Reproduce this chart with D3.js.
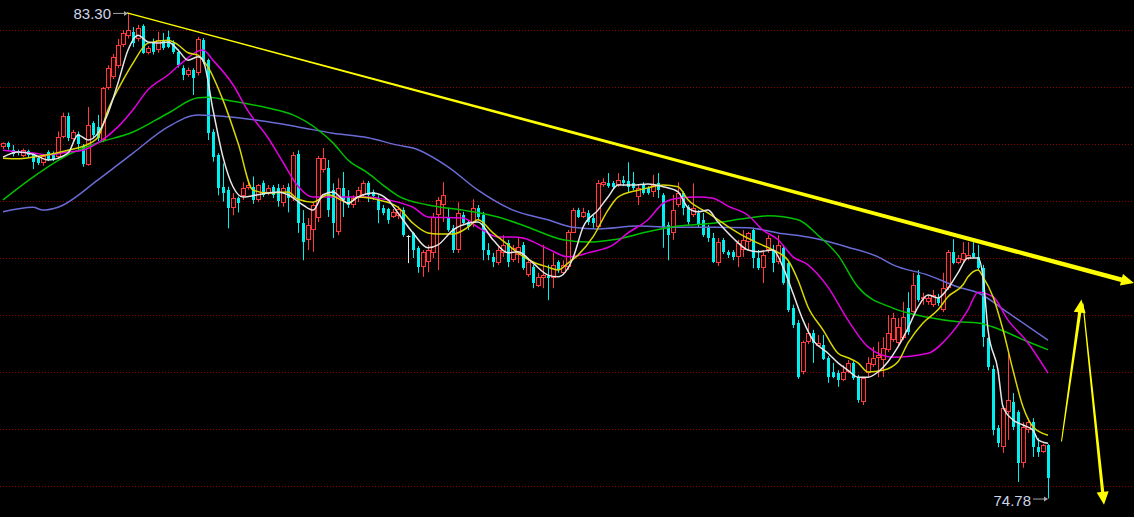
<!DOCTYPE html>
<html><head><meta charset="utf-8">
<script src="https://cdn.jsdelivr.net/npm/d3@7"></script>
<style>html,body{margin:0;padding:0;background:#000;overflow:hidden}svg{display:block}</style>
</head><body><svg id="c" width="1134" height="517"></svg>
<script>
// ---- data (prices) ----
const open = [
80.95,81.01,80.90,80.87,80.79,80.88,80.82,80.75,80.67,80.86,
80.84,80.78,81.13,81.50,81.08,81.18,80.96,80.64,81.36,81.30,
81.07,81.98,82.18,82.36,82.74,82.90,82.97,82.84,83.07,82.60,
82.77,82.65,82.80,82.88,82.77,82.62,82.33,82.21,82.30,82.24,
82.82,82.47,81.21,80.81,80.25,80.19,79.87,80.05,80.08,80.23,
80.25,80.02,80.32,80.14,80.25,80.23,79.97,80.25,80.05,80.83,
79.61,79.32,79.49,79.70,80.54,80.58,80.19,79.45,80.23,80.07,
79.93,80.05,80.11,80.32,80.15,80.06,79.88,79.86,79.72,79.74,
79.84,79.39,79.44,79.18,78.84,78.93,79.09,79.75,79.93,79.72,
79.53,79.14,79.75,79.63,79.61,79.88,79.75,79.14,79.02,78.91,
79.09,79.26,78.96,79.05,79.23,78.70,78.84,78.51,78.65,78.68,
78.65,78.93,78.74,78.84,79.44,79.84,79.72,79.79,79.70,79.54,
80.28,80.31,80.31,80.28,80.37,80.35,80.31,80.07,80.28,80.23,
80.16,80.31,80.11,79.58,79.44,79.93,80.14,79.89,79.75,79.79,
79.67,79.53,79.35,78.91,79.32,79.11,79.11,79.02,79.14,79.28,
79.49,79.00,78.82,79.14,79.14,78.93,79.18,78.91,78.12,77.86,
77.00,77.53,77.68,77.46,77.47,77.25,77.00,76.98,76.86,77.00,
77.16,76.91,76.47,76.98,77.12,77.25,77.21,77.38,77.56,77.51,
77.60,78.12,78.05,78.70,78.28,78.23,78.18,78.30,78.09,78.47,
79.11,78.91,78.96,78.98,79.09,79.02,78.82,77.60,77.05,76.02,
75.68,76.30,76.47,76.30,75.40,75.98,76.12,75.68,75.60,75.72];
const high = [
81.03,81.04,80.98,80.90,80.92,80.90,80.84,80.78,80.81,80.89,
80.87,81.22,81.55,81.55,81.25,81.22,81.00,81.65,81.40,81.51,
82.00,82.38,82.58,82.84,83.00,83.30,83.05,83.09,83.10,82.72,
82.85,82.97,82.95,82.99,82.82,82.66,82.38,82.34,82.33,82.88,
82.86,82.50,81.26,80.84,80.66,80.25,80.14,80.08,80.33,80.35,
80.43,80.30,80.36,80.28,80.28,80.30,80.28,80.31,80.86,80.89,
79.84,79.70,79.98,80.79,80.93,80.72,80.31,80.40,80.51,80.19,
80.10,80.25,80.36,80.35,80.20,80.10,79.93,79.88,79.86,79.91,
79.89,79.40,79.46,79.21,79.14,79.23,79.79,80.07,80.33,79.88,
79.58,79.98,79.81,79.67,80.03,79.93,79.81,79.26,79.09,79.19,
79.40,79.32,79.23,79.37,79.28,79.00,78.88,78.74,79.23,78.88,
79.09,78.96,78.96,79.49,79.88,79.88,79.88,79.84,79.75,80.37,
80.40,80.49,80.35,80.49,80.44,80.68,80.51,80.28,80.33,80.26,
80.46,80.49,80.14,79.63,80.11,80.33,80.17,79.93,80.31,79.84,
79.79,79.58,79.44,79.35,79.35,79.14,79.14,79.32,79.49,79.46,
79.53,79.14,79.14,79.40,79.23,79.40,79.23,78.96,78.18,77.91,
77.55,77.86,77.74,77.65,77.65,77.28,77.16,77.03,77.12,77.21,
77.19,76.95,76.91,77.26,77.44,77.53,77.61,78.00,78.04,77.95,
78.23,78.40,78.74,78.79,78.39,78.35,78.44,78.37,78.74,79.14,
79.33,79.05,79.28,79.28,79.28,79.23,78.88,77.61,77.12,76.07,
76.40,77.38,76.63,76.33,76.12,76.19,76.19,75.84,75.74,75.74];
const low = [
80.91,80.90,80.78,80.80,80.77,80.76,80.56,80.63,80.62,80.70,
80.70,80.74,81.10,81.05,81.03,80.90,80.60,80.62,81.10,81.05,
81.03,81.95,82.14,82.33,82.70,82.85,82.70,82.80,82.58,82.57,
82.57,82.60,82.65,82.68,82.58,82.34,82.12,82.18,81.86,82.20,
82.40,81.07,80.69,80.10,79.99,79.52,79.75,79.80,80.02,80.20,
79.95,79.98,80.07,80.10,80.05,79.90,79.90,79.80,80.00,79.44,
78.96,79.14,79.11,79.63,80.50,79.72,79.35,79.40,79.72,79.88,
79.88,79.98,80.07,79.98,80.02,79.61,79.75,79.60,79.70,79.68,
79.37,78.91,79.00,78.74,78.67,78.75,79.00,78.79,79.63,79.46,
79.09,79.09,79.58,79.49,79.54,79.67,78.96,78.96,78.84,78.88,
79.02,78.84,78.93,78.91,78.79,78.67,78.47,78.49,78.47,78.26,
78.47,78.74,78.70,78.79,79.44,79.70,79.70,79.58,79.53,79.53,
80.25,80.23,80.21,80.25,80.26,80.14,80.19,79.93,80.11,80.11,
80.07,80.05,79.18,78.96,79.32,79.89,79.75,79.58,79.72,79.54,
79.37,79.28,78.91,78.86,79.07,79.00,78.96,78.84,79.02,79.14,
78.82,78.79,78.56,79.09,78.75,78.89,78.53,78.05,77.77,76.88,
76.96,77.49,77.16,77.44,77.21,76.81,76.89,76.74,76.84,76.98,
76.86,76.46,76.42,76.91,77.09,76.91,76.91,77.35,77.53,77.47,
77.56,77.65,78.04,78.23,78.18,78.18,78.14,78.16,78.05,78.44,
78.89,78.89,78.93,78.96,79.00,78.79,77.44,77.03,75.89,75.68,
75.58,75.81,75.98,75.07,75.32,75.93,75.51,75.51,75.58,74.78];
const close = [
81.01,80.95,80.82,80.84,80.89,80.81,80.69,80.66,80.79,80.72,
80.74,81.13,81.49,81.10,81.21,81.00,80.65,81.34,81.16,81.10,
81.98,82.33,82.53,82.74,82.95,83.00,82.77,83.03,82.60,82.68,
82.62,82.82,82.68,82.71,82.62,82.38,82.21,82.30,82.15,82.84,
82.44,81.19,80.78,80.22,80.14,79.87,80.05,79.97,80.23,80.28,
80.02,80.28,80.11,80.23,80.11,80.00,80.23,80.05,80.81,79.61,
79.28,79.58,79.93,80.75,80.75,79.84,79.61,80.23,80.02,79.93,
80.05,80.19,80.31,80.11,80.08,79.84,79.79,79.67,79.81,79.86,
79.40,79.39,79.14,78.84,79.11,79.14,79.72,80.02,80.11,79.49,
79.14,79.79,79.61,79.54,79.88,79.72,79.14,79.05,78.93,79.14,
79.23,78.93,79.18,79.19,78.82,78.93,78.56,78.67,78.70,78.65,
78.88,78.79,78.88,79.46,79.84,79.72,79.81,79.63,79.61,80.31,
80.33,80.26,80.25,80.37,80.31,80.25,80.23,80.23,80.14,80.14,
80.28,80.19,79.54,79.40,79.84,80.14,79.88,79.63,79.88,79.58,
79.40,79.35,78.93,79.28,79.11,79.05,79.02,79.26,79.32,79.44,
79.00,78.82,79.05,79.35,78.91,79.23,78.56,78.09,77.82,76.91,
77.53,77.68,77.51,77.51,77.23,76.91,76.91,76.86,77.00,77.16,
76.89,76.51,76.89,77.16,77.25,77.30,77.42,77.68,77.95,77.79,
77.97,77.70,78.53,78.26,78.32,78.30,78.35,78.21,78.47,79.11,
78.91,79.00,79.09,79.05,79.02,78.82,77.61,77.09,75.98,75.75,
76.37,76.51,76.04,75.40,76.04,76.12,75.68,75.60,75.72,75.14];

// moving-average lines, sampled [candle index, price]
const ma5 = [[0,80.77],[3,80.86],[6,80.82],[9,80.72],[13,80.84],[15,81.16],[17,81.07],[19,81.19],[21,81.54],[23,82.07],[25,82.65],[27,82.91],[29,82.79],[31,82.77],[33,82.79],[35,82.65],[37,82.47],[39,82.53],[40,82.47],[42,81.60],[44,80.77],[46,80.25],[48,80.07],[51,80.11],[55,80.16],[57,80.11],[60,79.93],[62,79.84],[64,80.11],[66,80.16],[69,79.96],[71,80.07],[74,80.14],[77,80.02],[79,79.79],[82,79.44],[85,79.18],[87,79.23],[90,79.49],[93,79.61],[95,79.63],[98,79.32],[101,79.09],[103,79.11],[106,78.91],[109,78.70],[111,78.67],[114,79.00],[116,79.54],[119,79.84],[121,80.07],[123,80.28],[126,80.28],[129,80.30],[132,80.25],[135,80.16],[137,79.88],[139,79.81],[141,79.84],[143,79.63],[146,79.35],[149,79.14],[151,79.11],[154,79.14],[156,78.84],[158,78.38],[160,77.91],[162,77.56],[165,77.33],[167,77.16],[169,77.03],[171,76.91],[173,76.91],[175,77.00],[177,77.18],[179,77.44],[181,77.77],[183,78.14],[185,78.35],[187,78.30],[189,78.47],[191,78.74],[193,79.00],[195,79.00],[196,78.67],[197,77.74],[199,77.03],[200,76.39],[202,76.16],[204,76.07],[206,75.98],[207,75.81],[209,75.75]];
const ma10 = [[0,80.75],[3,80.74],[6,80.77],[9,80.81],[13,80.89],[16,80.96],[19,81.12],[21,81.60],[24,82.12],[26,82.42],[29,82.77],[33,82.82],[35,82.74],[37,82.60],[39,82.56],[41,82.35],[44,81.77],[47,81.02],[50,80.19],[53,80.14],[57,80.16],[59,80.03],[62,79.98],[65,80.11],[68,80.00],[69,79.96],[71,80.07],[75,80.02],[79,79.89],[82,79.61],[85,79.44],[87,79.42],[90,79.42],[93,79.54],[95,79.67],[98,79.44],[101,79.23],[103,79.09],[106,78.93],[109,78.84],[111,78.79],[113,78.91],[115,79.05],[118,79.37],[121,79.84],[123,80.07],[127,80.19],[129,80.23],[132,80.28],[135,80.25],[137,80.02],[141,79.79],[144,79.61],[147,79.44],[151,79.26],[154,79.14],[157,78.96],[159,78.61],[161,78.14],[164,77.74],[167,77.33],[169,77.25],[171,77.16],[173,77.00],[176,77.03],[179,77.18],[181,77.51],[184,77.86],[187,78.09],[189,78.32],[192,78.53],[193,78.67],[195,78.79],[196,78.67],[198,78.32],[200,77.74],[202,77.03],[204,76.39],[206,76.04],[209,75.89]];
const ma20 = [[0,80.89],[3,80.86],[6,80.84],[9,80.81],[13,80.86],[16,80.89],[19,81.02],[23,81.30],[26,81.60],[29,81.95],[33,82.21],[36,82.44],[39,82.63],[40,82.65],[42,82.47],[46,82.04],[49,81.58],[53,81.11],[56,80.68],[59,80.26],[62,80.07],[66,80.07],[73,80.07],[75,80.05],[79,79.98],[82,79.89],[85,79.72],[92,79.70],[95,79.54],[99,79.37],[102,79.37],[104,79.35],[109,79.16],[113,79.02],[115,79.04],[117,79.09],[122,79.23],[125,79.44],[129,79.67],[132,79.96],[135,80.05],[139,80.07],[142,80.05],[145,79.91],[149,79.75],[152,79.49],[155,79.32],[158,79.02],[161,78.88],[165,78.49],[169,77.91],[173,77.44],[178,77.26],[185,77.33],[189,77.61],[193,78.09],[195,78.40],[198,78.32],[201,77.91],[205,77.51],[209,76.98]];
const ma40 = [[0,80.02],[6,80.42],[13,80.81],[19,81.02],[26,81.21],[33,81.54],[39,81.81],[41,81.82],[46,81.75],[53,81.63],[58,81.51],[63,81.25],[66,81.02],[69,80.72],[73,80.49],[76,80.28],[79,80.09],[85,79.93],[92,79.84],[99,79.72],[105,79.54],[112,79.32],[117,79.28],[122,79.32],[129,79.46],[135,79.56],[142,79.61],[149,79.70],[153,79.74],[159,79.67],[163,79.40],[167,79.05],[171,78.49],[178,78.12],[185,77.96],[191,77.88],[195,77.86],[198,77.79],[205,77.53],[209,77.39]];
const ma60 = [[0,79.81],[6,79.89],[8,79.84],[11,79.89],[19,80.37],[26,80.84],[33,81.30],[39,81.51],[46,81.47],[53,81.39],[59,81.30],[66,81.19],[73,81.11],[79,80.98],[82,80.93],[89,80.60],[95,80.19],[102,79.84],[109,79.67],[114,79.54],[119,79.51],[127,79.56],[135,79.54],[142,79.54],[149,79.53],[155,79.44],[162,79.35],[169,79.19],[175,79.02],[178,78.88],[185,78.70],[191,78.49],[195,78.39],[201,78.04],[209,77.56]];

const gridPrices = [75,76,77,78,79,80,81,82,83];
const highLabel = {index:25, price:83.30, text:"83.30"};
const lowLabel = {index:209, price:74.78, text:"74.78"};
// hand-drawn annotations, in (candle index, price)
const trendLine = [[24.8,83.30],[226.2,78.56]];
const upArrow = [[211.7,75.78],[215.7,78.27]];
const downArrow = [[216.0,78.20],[220.2,74.67]];

// ---- drawing ----
const W=1134,H=517;
const svg=d3.select("#c");
const x=d3.scaleLinear().domain([0,209]).range([3,1048]);
const y=d3.scaleLinear().domain([75,83]).range([486,30]);

svg.append("rect").attr("width",W).attr("height",H).attr("fill","#000");

svg.append("g").selectAll("line").data(gridPrices).join("line")
  .attr("x1",0).attr("x2",W)
  .attr("y1",d=>Math.round(y(d))+0.5).attr("y2",d=>Math.round(y(d))+0.5)
  .attr("stroke","#8c0000").attr("stroke-width",1).attr("stroke-dasharray","1,2");

const idx=d3.range(open.length);
const UP="#ff3c3c", DN="#00f0f0";
const g=svg.append("g");
idx.forEach(i=>{
  const cx=Math.round(x(i));
  const o=open[i],c=close[i],h=high[i],l=low[i];
  const yo=y(o),yc=y(c),yh=y(h),yl=y(l);
  const top=Math.round(Math.min(yo,yc)), bot=Math.round(Math.max(yo,yc));
  if(c>o){
    g.append("line").attr("x1",cx+0.5).attr("x2",cx+0.5).attr("y1",yh).attr("y2",top).attr("stroke",UP);
    g.append("line").attr("x1",cx+0.5).attr("x2",cx+0.5).attr("y1",bot).attr("y2",yl).attr("stroke",UP);
    g.append("rect").attr("x",cx-1.5).attr("y",top+0.5).attr("width",4).attr("height",Math.max(bot-top-1,1))
      .attr("fill","#1a0000").attr("stroke",UP).attr("stroke-width",1);
  } else if(c<o){
    g.append("line").attr("x1",cx+0.5).attr("x2",cx+0.5).attr("y1",yh).attr("y2",yl).attr("stroke",DN);
    g.append("rect").attr("x",cx-1).attr("y",top).attr("width",3).attr("height",Math.max(bot-top,1)).attr("fill",DN);
  } else {
    g.append("line").attr("x1",cx+0.5).attr("x2",cx+0.5).attr("y1",yh).attr("y2",yl).attr("stroke","#e8e8e8");
    g.append("line").attr("x1",cx-1.5).attr("x2",cx+2.5).attr("y1",top+0.5).attr("y2",top+0.5).attr("stroke","#e8e8e8");
  }
});

const line=d3.line().x(d=>x(d[0])).y(d=>y(d[1])).curve(d3.curveMonotoneX);
const maDefs=[[ma60,"#6b6bd6"],[ma40,"#00c000"],[ma20,"#e000e0"],[ma10,"#d8d800"],[ma5,"#e6e6e6"]];
maDefs.forEach(([d,col])=>{
  svg.append("path").datum(d).attr("d",line).attr("fill","none").attr("stroke",col).attr("stroke-width",1.5);
});

// tapered arrow helper
function arrow(seg,w0,w1,headLen,headHalf,col){
  const [a,b]=seg;
  const x0=x(a[0]),y0=y(a[1]),x1=x(b[0]),y1=y(b[1]);
  const dx=x1-x0,dy=y1-y0,L=Math.hypot(dx,dy),ux=dx/L,uy=dy/L,nx=-uy,ny=ux;
  const bx=x1-ux*headLen,by=y1-uy*headLen;
  const pts=[[x0+nx*w0/2,y0+ny*w0/2],[bx+nx*w1/2,by+ny*w1/2],[bx+nx*headHalf,by+ny*headHalf],[x1,y1],
    [bx-nx*headHalf,by-ny*headHalf],[bx-nx*w1/2,by-ny*w1/2],[x0-nx*w0/2,y0-ny*w0/2]];
  svg.append("path").attr("d","M"+pts.map(p=>p.join(",")).join("L")+"Z").attr("fill",col);
}
arrow(trendLine,1.2,4.6,13,6,"#ffff00");
arrow(upArrow,1,3.2,13,6,"#ffff00");
arrow(downArrow,1,3.2,13,6,"#ffff00");

// extreme labels
function extLabel(lab,dy){
  const px=x(lab.index), py=y(lab.price);
  svg.append("text").attr("x",px-17).attr("y",py+dy).attr("text-anchor","end")
    .attr("font-family","Liberation Sans, Arial, sans-serif").attr("font-size",15).attr("fill","#cdd6e8").text(lab.text);
  svg.append("line").attr("x1",px-15).attr("x2",px-1).attr("y1",py+0.5).attr("y2",py+0.5).attr("stroke","#a8a8a8");
  svg.append("path").attr("d",`M${px},${py+0.5}L${px-4},${py-2}L${px-4},${py+3}Z`).attr("fill","#a8a8a8");
}
extLabel(highLabel,6.5);
extLabel(lowLabel,7.5);
</script></body></html>
